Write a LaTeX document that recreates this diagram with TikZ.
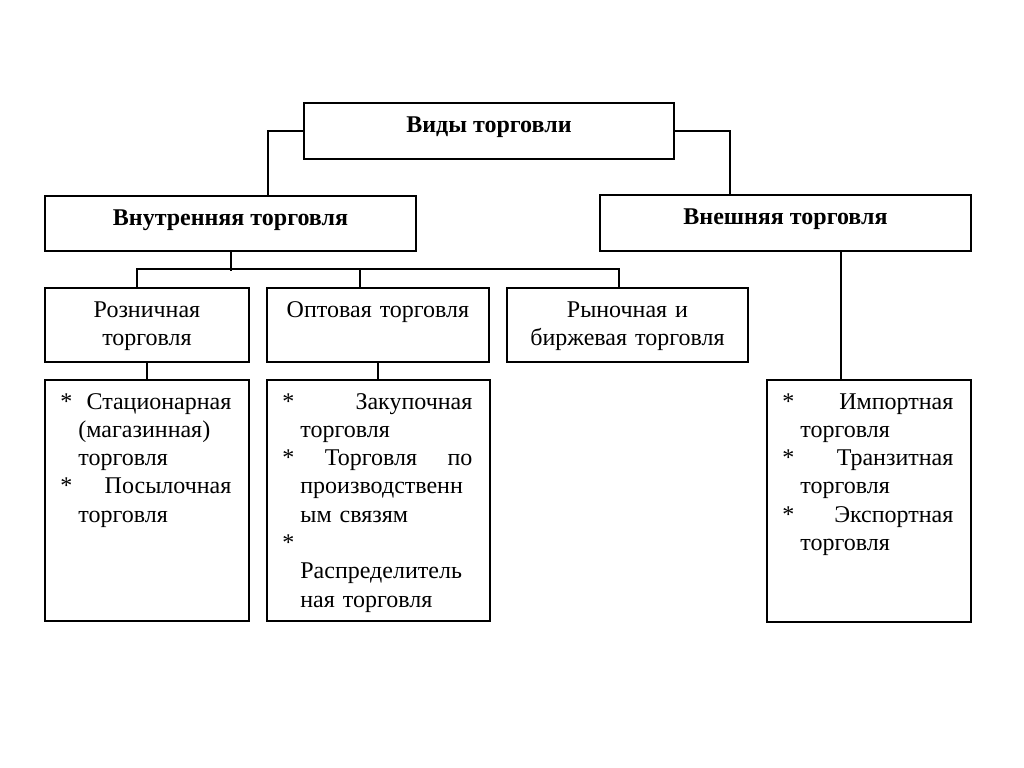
\documentclass[tikz,border=0pt]{standalone}
\usepackage{fontspec}
\setmainfont{Liberation Serif}
\newcommand{\ind}{\hspace*{9pt}}

\begin{document}
\begin{tikzpicture}[x=0.5pt,y=-0.5pt,
    box/.style={draw,line width=1pt,inner sep=0pt},
    head/.style={anchor=base,yshift=-15pt,font=\fontsize{12}{14.15}\selectfont\bfseries},
    lbl/.style={anchor=base,yshift=-15pt,inner sep=0pt,align=center,font=\fontsize{12}{14.15}\selectfont},
    lst/.style={anchor=base west,xshift=8pt,yshift=-15pt,inner sep=0pt,align=left,font=\fontsize{12}{14.15}\selectfont}]
  \useasboundingbox[fill=white] (0,0) rectangle (1024,767);
  % boxes
  \node[box,minimum width=185pt,minimum height=28pt] (vidy) at (489,131) {};
  \node[box,minimum width=185.5pt,minimum height=27.5pt] (vnutr) at (230.5,223.5) {};
  \node[box,minimum width=185.5pt,minimum height=28pt] (vnesh) at (785.5,223) {};
  \node[box,minimum width=102pt,minimum height=37pt] (rozn) at (147,325) {};
  \node[box,minimum width=111pt,minimum height=37pt] (opt) at (378,325) {};
  \node[box,minimum width=120.5pt,minimum height=37pt] (rynok) at (627.5,325) {};
  \node[box,minimum width=102pt,minimum height=120.5pt] (roznlist) at (147,500.5) {};
  \node[box,minimum width=111.5pt,minimum height=120.5pt] (optlist) at (378.5,500.5) {};
  \node[box,minimum width=102pt,minimum height=121pt] (vneshlist) at (869,501) {};
  % texts
  \node[head] (vidyT) at (vidy.north) {Виды торговли};
  \node[head] (vnutrT) at (vnutr.north) {Внутренняя торговля};
  \node[head] (vneshT) at (vnesh.north) {Внешняя торговля};
  \node[lbl,text width=98pt] (roznT) at (rozn.north) {Розничная\\торговля};
  \node[lbl,text width=108pt] (optT) at (opt.north) {Оптовая торговля};
  \node[lbl,text width=118pt] (rynokT) at (rynok.north) {Рыночная и\\биржевая торговля};
  \node[lst,text width=85.5pt] (roznlistT) at (roznlist.north west)
    {{*}\hfill Стационарная\\ \ind(магазинная)\\ \ind торговля\\ {*}\hfill Посылочная\\ \ind торговля};
  \node[lst,text width=95pt] (optlistT) at (optlist.north west)
    {{*}\hfill Закупочная\\ \ind торговля\\ {*}\hfill Торговля\hfill по\\ \ind производственн\\ \ind ым связям\\ {*}\\ \ind Распределитель\\ \ind ная торговля};
  \node[lst,text width=85.5pt] (vneshlistT) at (vneshlist.north west)
    {{*}\hfill Импортная\\ \ind торговля\\ {*}\hfill Транзитная\\ \ind торговля\\ {*}\hfill Экспортная\\ \ind торговля};
  % connectors
  \draw[line width=1pt] (vidy.west) -| ([xshift=18.5pt]vnutr.north);
  \draw[line width=1pt] (vidy.east) -| ([xshift=-28pt]vnesh.north);
  \draw[line width=1pt] (vnutr.south) -- ++(0,19);
  \draw[line width=1pt] ([xshift=-5pt]rozn.north) -- ++(0,-18) -| ([xshift=-4.25pt]rynok.north);
  \draw[line width=1pt] ([xshift=-9pt]opt.north) -- ++(0,-18);
  \draw[line width=1pt] (rozn.south) -- (roznlist.north);
  \draw[line width=1pt] (opt.south) -- (opt.south |- optlist.north);
  \draw[line width=1pt] ([xshift=-14pt]vneshlist.north) -- ++(0,-129);
\end{tikzpicture}
\end{document}
